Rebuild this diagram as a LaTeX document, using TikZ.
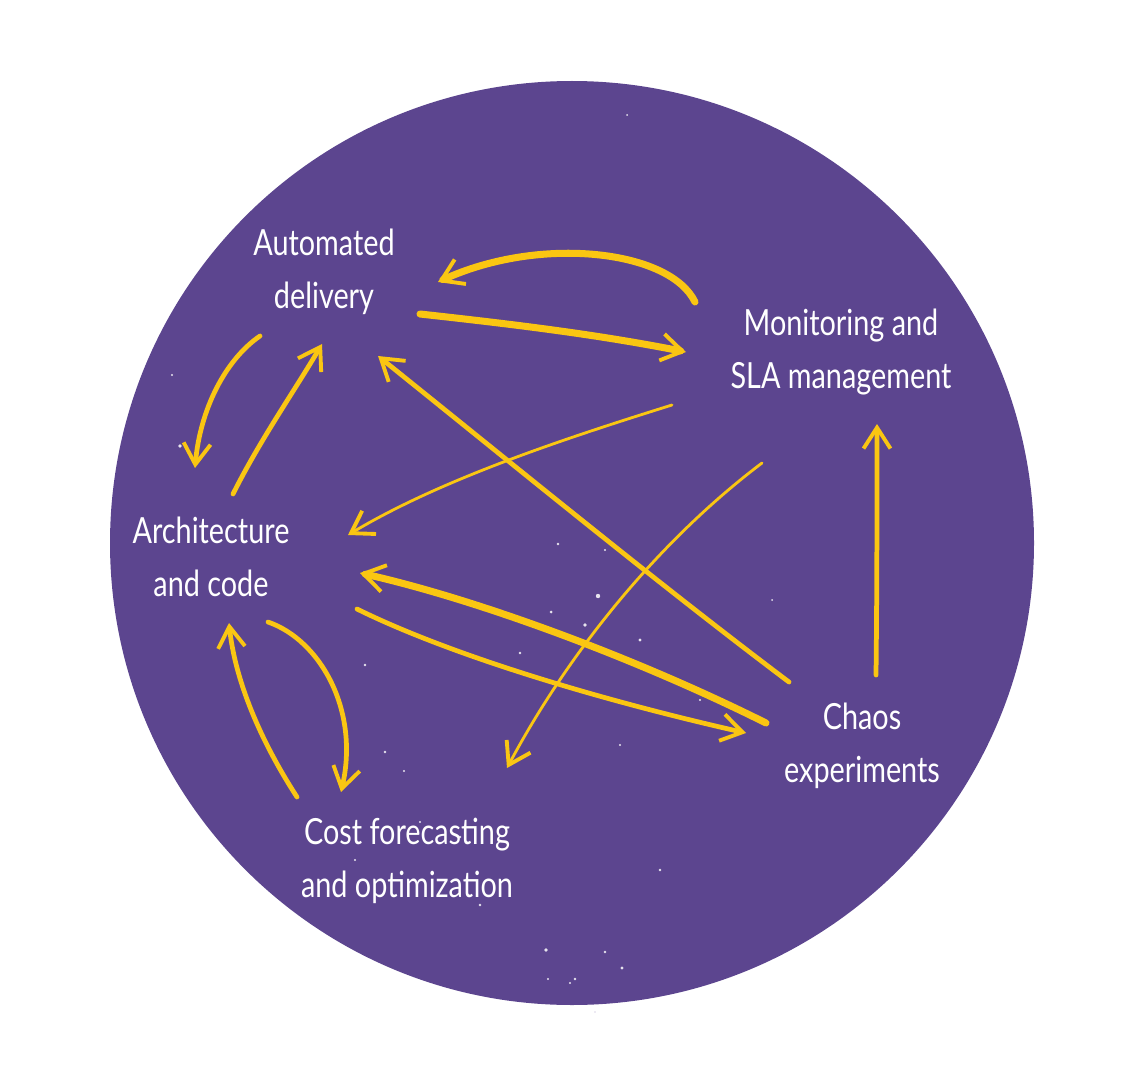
\documentclass[tikz,border=0pt]{standalone}
\usepackage{fontspec}
\usepackage{xcolor}
\usepackage{tikz}
\usetikzlibrary{positioning,arrows.meta}
\newfontfamily\handfont[FakeStretch=0.8]{Lato}
\definecolor{bgpurple}{RGB}{92,69,143}
\definecolor{penyellow}{RGB}{250,198,18}

\begin{document}
\begin{tikzpicture}[
  x=0.02cm, y=-0.02cm,
  lbl/.style={text=white, align=center, inner sep=2pt,
              font=\handfont\fontsize{20.5}{30}\selectfont},
  pen/.style={draw=penyellow, line cap=round,
              -{Straight Barb[length=4.2mm, width=5.4mm, line width=2.2pt]}},
  thick pen/.style={pen, line width=4pt},
  mid pen/.style={pen, line width=2.7pt},
  thin pen/.style={pen, line width=1.6pt},
  speck/.style={fill=white!85!bgpurple, draw=none},
]
\useasboundingbox (0,0) rectangle (1142,1081);
\fill[bgpurple] (572,543) circle[radius=462];

% white specks
\foreach \x/\y/\r in {598/596/2.2, 585/625/1.8, 640/640/1.6, 551/612/1.5,
  520/653/1.4, 558/544/1.3, 605/550/1.2, 520/673/1.2, 385/752/1.3,
  404/771/1.2, 546/950/1.8, 575/979/1.4, 605/952/1.3, 622/968/1.6,
  548/979/1.2, 570/983/1.2, 460/837/1.3, 420/822/1.2, 355/860/1.2,
  180/446/1.8, 172/375/1.2, 365/665/1.3, 620/745/1.2, 660/870/1.3,
  595/1012/1.2, 627/115/1.0, 772/600/1.0, 700/700/1.1, 480/905/1.3} {
  \fill[speck] (\x,\y) circle[radius=\r];
}

% labels
\node[lbl] (auto) at (324,272) {Automated\\delivery};
\node[lbl] (mon)  at (841,352) {Monitoring and\\SLA management};
\node[lbl] (arch) at (211,557) {Architecture\\and code};
\node[lbl] (chaos) at (862,746) {Chaos\\experiments};
\node[lbl] (cost) at (407,861) {Cost forecasting\\and optimization};

% connector ends
\coordinate (auto-in-top) at (438,282);
\coordinate (auto-out-r)  at (420,314);
\coordinate (auto-out-l)  at (260,336);
\coordinate (auto-in-l)   at (322,344);
\coordinate (auto-in-d)   at (378,356);
\coordinate (mon-out-top) at (695,302);
\coordinate (mon-in-l)    at (686,352);
\coordinate (mon-out-a)   at (672,405);
\coordinate (mon-out-c)   at (762,463);
\coordinate (mon-in-d)    at (877,424);
\coordinate (arch-in-u)   at (195,468);
\coordinate (arch-out-u)  at (233,494);
\coordinate (arch-in-m)   at (348,535);
\coordinate (arch-in-r)   at (360,573);
\coordinate (arch-out-r)  at (357,609);
\coordinate (arch-in-d)   at (229,623);
\coordinate (arch-out-d)  at (268,622);
\coordinate (chaos-in)    at (746,733);
\coordinate (chaos-out-a) at (766,723);
\coordinate (chaos-out-d) at (789,682);
\coordinate (chaos-out-u) at (876,675);
\coordinate (cost-in-u)   at (507,768);
\coordinate (cost-out-u)  at (297,797);
\coordinate (cost-in-l)   at (341,792);

% delivery <-> monitoring
\draw[thick pen] (mon-out-top) .. controls (670,250) and (540,235) .. (auto-in-top);
\draw[thick pen] (auto-out-r) .. controls (520,325) and (600,335) .. (mon-in-l);

% delivery <-> architecture
\draw[mid pen] (auto-out-l) .. controls (225,360) and (200,410) .. (arch-in-u);
\draw[mid pen] (arch-out-u) .. controls (260,440) and (295,390) .. (auto-in-l);

% long diagonals
\draw[mid pen] (chaos-out-d) .. controls (660,585) and (510,462) .. (auto-in-d);
\draw[thin pen] (mon-out-a) .. controls (560,440) and (440,480) .. (arch-in-m);
\draw[thin pen] (mon-out-c) .. controls (660,540) and (570,650) .. (cost-in-u);

% architecture <-> chaos
\draw[thick pen] (chaos-out-a) .. controls (640,660) and (480,600) .. (arch-in-r);
\draw[mid pen] (arch-out-r) .. controls (450,655) and (600,700) .. (chaos-in);

% chaos -> monitoring
\draw[mid pen] (chaos-out-u) .. controls (877,590) and (877,500) .. (mon-in-d);

% architecture <-> cost
\draw[mid pen] (cost-out-u) .. controls (260,740) and (235,680) .. (arch-in-d);
\draw[mid pen] (arch-out-d) .. controls (320,640) and (360,710) .. (cost-in-l);
\end{tikzpicture}
\end{document}
